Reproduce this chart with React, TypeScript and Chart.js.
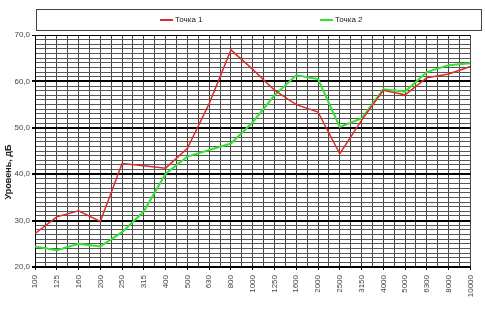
import React, { useEffect, useRef } from "react";
import { Chart, registerables } from "chart.js";

Chart.register(...registerables);

const categories = ["100", "125", "160", "200", "250", "315", "400", "500", "630", "800", "1000", "1250", "1600", "2000", "2500", "3150", "4000", "5000", "6300", "8000", "10000"];
const tochka1 = [27.2, 30.8, 32.1, 29.8, 42.3, 41.8, 41.3, 45.6, 55.2, 66.8, 62.6, 58.1, 55.0, 53.4, 44.4, 51.6, 58.1, 57.1, 60.8, 61.6, 63.2];
const tochka2 = [24.4, 23.6, 25.0, 24.4, 27.5, 32.0, 40.1, 43.8, 45.2, 46.6, 51.2, 57.0, 61.3, 60.5, 50.2, 52.0, 58.3, 57.8, 62.0, 63.5, 63.9];
const seriesNames = ["Точка 1", "Точка 2"];
const seriesColors = ["#e02a2a", "#33e033"];
const yTitle = "Уровень, дБ";

const FONT = "'Liberation Sans', Arial, sans-serif";

const overlayPlugin = {
  id: "overlay",
  afterDraw(chart: any) {
    const ctx = chart.ctx;
    ctx.save();
    // legend box
    ctx.strokeStyle = "#444";
    ctx.lineWidth = 1;
    ctx.strokeRect(36.5, 9.5, 445, 21);
    ctx.font = `8px ${FONT}`;
    ctx.textBaseline = "middle";
    ctx.textAlign = "left";
    const starts = [160, 320];
    starts.forEach((x, i) => {
      ctx.strokeStyle = seriesColors[i];
      ctx.lineWidth = 2;
      ctx.beginPath();
      ctx.moveTo(x, 20);
      ctx.lineTo(x + 13, 20);
      ctx.stroke();
      ctx.fillStyle = "#222";
      ctx.fillText(seriesNames[i], x + 15, 20);
    });
    // y title
    ctx.translate(9, 172);
    ctx.rotate(-Math.PI / 2);
    ctx.font = `bold 9px ${FONT}`;
    ctx.textAlign = "center";
    ctx.fillStyle = "#222";
    ctx.fillText(yTitle, 0, 0);
    ctx.restore();
  },
};

export default function App() {
  const ref = useRef<HTMLCanvasElement>(null);
  useEffect(() => {
    const chart = new Chart(ref.current as HTMLCanvasElement, {
      type: "line",
      data: {
        datasets: [
          {
            label: seriesNames[0],
            data: tochka1.map((y, i) => ({ x: i, y })),
            borderColor: seriesColors[0],
            borderWidth: 1.5,
            pointRadius: 0,
            tension: 0,
          },
          {
            label: seriesNames[1],
            data: tochka2.map((y, i) => ({ x: i, y })),
            borderColor: seriesColors[1],
            borderWidth: 2,
            pointRadius: 0,
            tension: 0,
          },
        ],
      },
      options: {
        responsive: false,
        animation: false,
        devicePixelRatio: 1,
        layout: { padding: { top: 35, right: 4, left: 0, bottom: 0 } },
        plugins: { legend: { display: false }, tooltip: { enabled: false } },
        scales: {
          x: {
            type: "linear",
            min: 0,
            max: categories.length - 1,
            afterFit: (s: any) => {
              s.height = 42;
            },
            grid: {
              color: "#444",
              lineWidth: 1,
              tickLength: 3,
              tickColor: (c: any) => (Number.isInteger(c.tick?.value) ? "#000" : "rgba(0,0,0,0)"),
            },
            border: { color: "#000", width: 1 },
            ticks: {
              stepSize: 0.5,
              autoSkip: false,
              minRotation: 90,
              maxRotation: 90,
              padding: 5,
              color: "#444",
              font: { family: FONT, size: 8 },
              callback: (v: any) => (Number.isInteger(v) ? categories[v] : ""),
            },
          },
          y: {
            min: 20,
            max: 70,
            afterFit: (s: any) => {
              s.width = 35;
            },
            grid: {
              color: (c: any) => (c.tick && c.tick.value % 10 === 0 ? "#000" : "#555"),
              lineWidth: (c: any) => (c.tick && c.tick.value % 10 === 0 && c.tick.value !== 70 ? 2 : 1),
              tickLength: 3,
              tickColor: (c: any) => (c.tick && c.tick.value % 10 === 0 ? "#000" : "rgba(0,0,0,0)"),
            },
            border: { color: "#000", width: 1 },
            ticks: {
              stepSize: 1,
              autoSkip: false,
              padding: 2,
              color: "#444",
              font: { family: FONT, size: 8 },
              callback: (v: any) => (v % 10 === 0 ? Number(v).toFixed(1).replace(".", ",") : ""),
            },
          },
        },
      },
      plugins: [overlayPlugin],
    });
    return () => chart.destroy();
  }, []);
  return (
    <div style={{ position: "fixed", left: 0, top: 0, width: 485, height: 309, background: "#fff" }}>
      <canvas ref={ref} width={485} height={309} />
    </div>
  );
}
